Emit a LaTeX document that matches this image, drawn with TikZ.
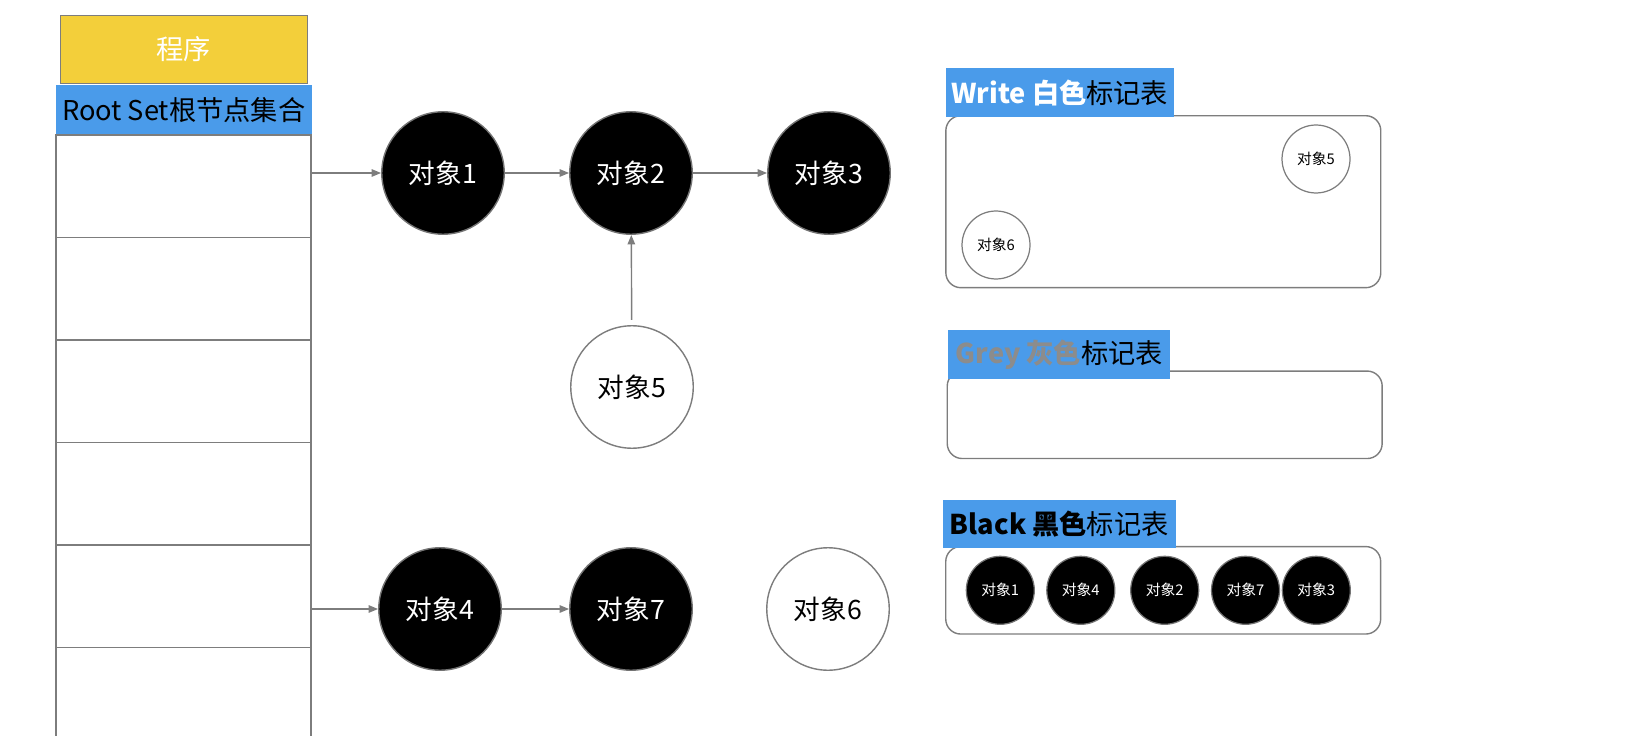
\documentclass[tikz,border=0pt]{standalone}
\usepackage{fontspec}
\setmainfont{Noto Sans CJK SC}
\usetikzlibrary{arrows.meta, positioning}
\definecolor{rootblue}{RGB}{74,155,234}
\definecolor{progyellow}{RGB}{243,207,58}
\definecolor{linegrey}{RGB}{125,125,125}
\definecolor{greytext}{RGB}{140,140,140}
\newcommand{\bigfont}{\fontsize{15.2}{17}\selectfont}
\newcommand{\tagfont}{\fontsize{15.5}{18}\selectfont}
\newcommand{\tinyfont}{\fontsize{8.4}{9}\selectfont}

\begin{document}
\begin{tikzpicture}[
    x=0.02cm, y=-0.02cm,
    obj/.style={
        circle, minimum size=2.45cm, inner sep=0pt, line width=0.8pt,
        font=\bigfont
    },
    blackobj/.style={obj, fill=black, draw=black!55, text=white},
    whiteobj/.style={obj, fill=white, draw=linegrey, text=black},
    smallobj/.style={
        circle, minimum size=1.36cm, inner sep=0pt, line width=0.7pt,
        font=\tinyfont
    },
    smallblack/.style={smallobj, fill=black, draw=black!55, text=white},
    smallwhite/.style={smallobj, fill=white, draw=linegrey, text=black},
    link/.style={draw=linegrey, line width=0.8pt,
        -{Triangle[length=1.9mm, width=1.5mm]}},
    cell/.style={
        draw=linegrey, line width=0.8pt, minimum width=5.1cm,
        minimum height=2.05cm, inner sep=0pt
    },
    marktable/.style={
        draw=linegrey, rounded corners=0.3cm, line width=0.8pt,
        minimum width=8.7cm, inner sep=0pt
    },
    tag/.style={
        fill=rootblue, minimum height=0.97cm, inner sep=0pt, font=\tagfont
    }
]

% ---- Page area (the last stack cell runs off the bottom) ----
\path[use as bounding box, clip] (0,0) rectangle (1642,736);

% ---- Program and its root set stack ----
\node[draw=linegrey, fill=progyellow, minimum width=4.94cm,
      minimum height=1.36cm, inner sep=0pt, font=\tagfont, text=white]
      (prog) at (183.5,49) {程序};
\node[fill=rootblue, minimum width=5.12cm, minimum height=1cm,
      inner sep=0pt, font=\tagfont] (root) at (183.7,110) {Root Set根节点集合};
\foreach \i in {1,...,6}
    \node[cell] (cell\i) at (183.5,{135+102.5*(\i-0.5)}) {};

% ---- Object graph ----
\node[blackobj] (obj1) at (443,173) {对象1};
\node[blackobj] (obj2) at (631,173) {对象2};
\node[blackobj] (obj3) at (829,173) {对象3};
\node[whiteobj] (obj5) at (632,387) {对象5};
\node[blackobj] (obj4) at (440,609) {对象4};
\node[blackobj] (obj7) at (631,609) {对象7};
\node[whiteobj] (obj6) at (828,609) {对象6};

\draw[link] (cell1.east |- obj1) -- (obj1);
\draw[link] (obj1) -- (obj2);
\draw[link] (obj2) -- (obj3);
\draw[link, shorten <=3pt] (obj5) -- (obj2);
\draw[link] (cell5.east |- obj4) -- (obj4);
\draw[link] (obj4) -- (obj7);

% ---- White mark table ----
\node[marktable, minimum height=3.44cm] (whitetab) at (1163.3,201.7) {};
\node[tag, minimum width=4.56cm] (whitetag) at (1059.7,92.5)
     {\textcolor{white}{\textbf{Write 白色}}标记表};
\node[smallwhite] (w5) at (1316,159) {对象5};
\node[smallwhite] (w6) at (996,245) {对象6};

% ---- Grey mark table ----
\node[marktable, minimum height=1.75cm] (greytab) at (1164.7,414.8) {};
\node[tag, minimum width=4.44cm] (greytag) at (1059.3,354.7)
     {\textcolor{greytext}{\textbf{Grey 灰色}}标记表};

% ---- Black mark table ----
\node[marktable, minimum height=1.75cm] (blacktab) at (1163.2,590.3) {};
\node[tag, minimum width=4.67cm] (blacktag) at (1059.3,524.2)
     {\textbf{Black 黑色}标记表};
\node[smallblack] (b1) at (1000.3,590.3) {对象1};
\node[smallblack] (b4) at (1080.8,590.3) {对象4};
\node[smallblack] (b2) at (1164.7,590.3) {对象2};
\node[smallblack] (b7) at (1245.5,590.3) {对象7};
\node[smallblack] (b3) at (1316.3,590.3) {对象3};

\end{tikzpicture}
\end{document}
